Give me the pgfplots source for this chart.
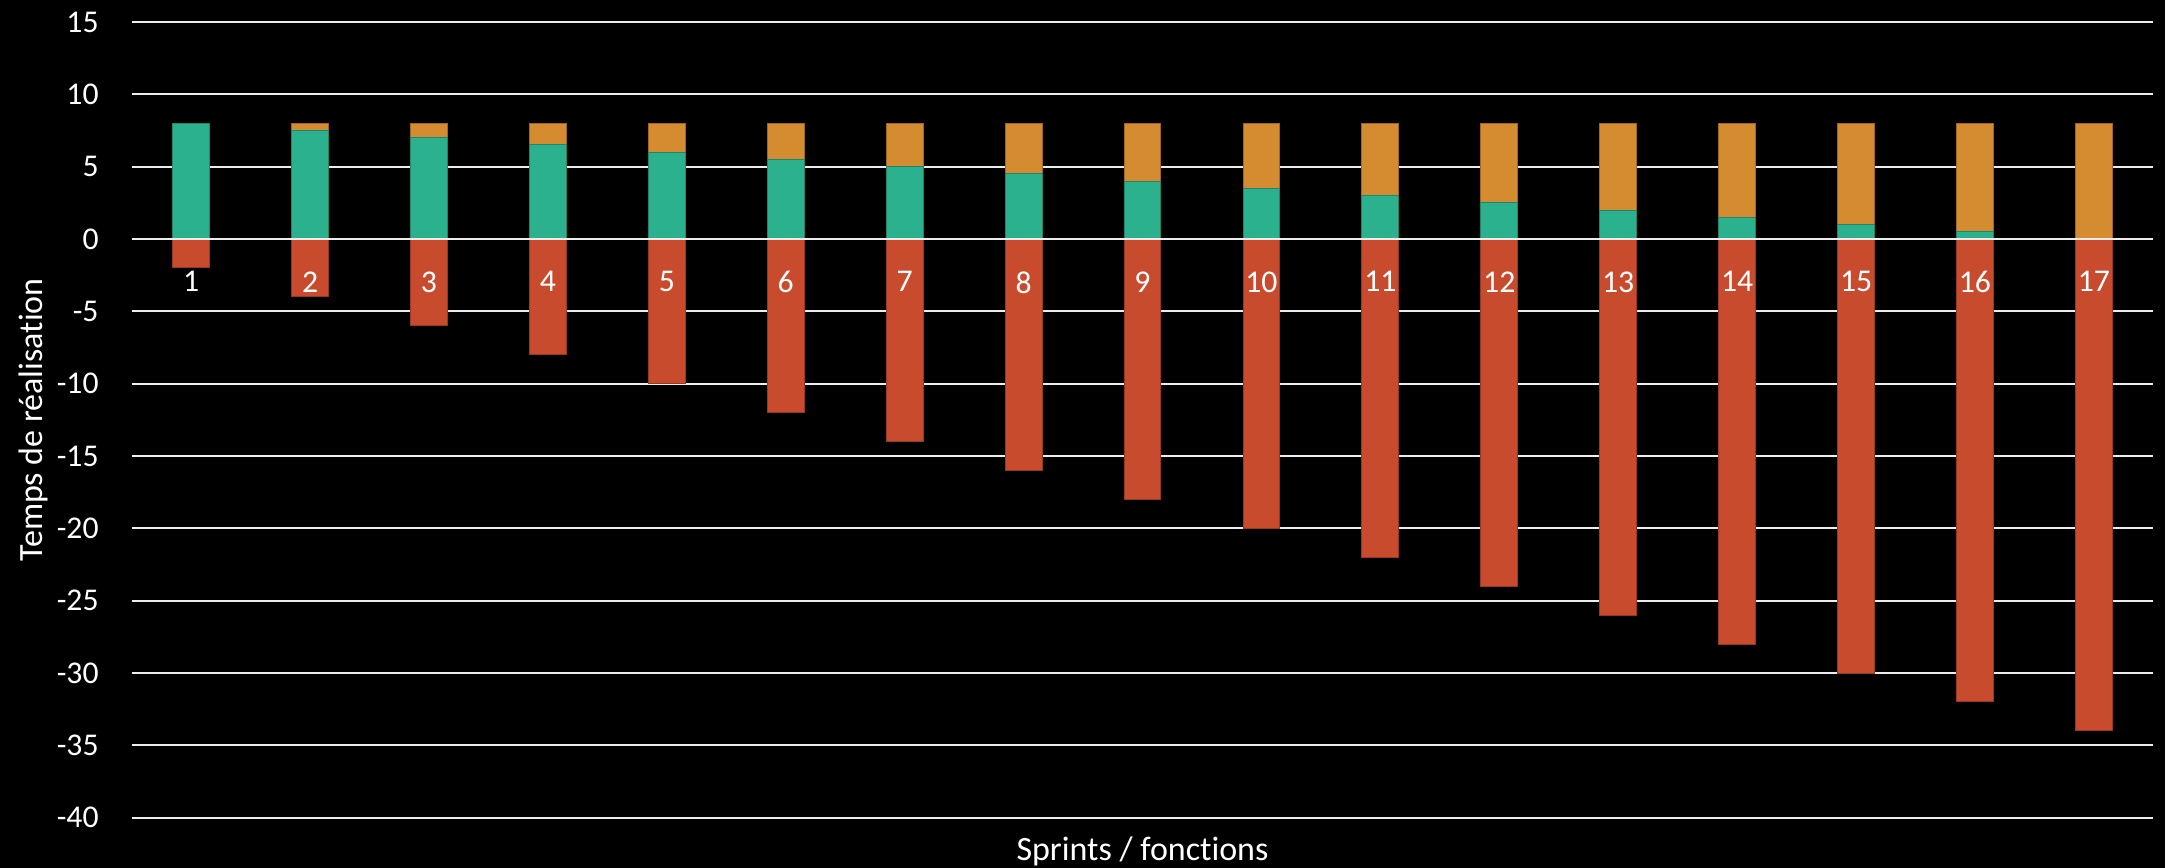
\documentclass[border=0pt]{standalone}
\usepackage{pgfplots}
\pgfplotsset{compat=1.18}
\usepackage{fontspec}
\setmainfont{Carlito}[Ligatures=NoCommon]
\definecolor{cgreen}{HTML}{2BB18E}
\definecolor{corange}{HTML}{D58B30}
\definecolor{cred}{HTML}{C94B2E}
\definecolor{cgrid}{HTML}{EDEDED}
\pgfplotsset{base/.style={
  scale only axis, width=606.5pt, height=238.7pt,
  xmin=0.5, xmax=17.5, ymin=-40, ymax=15,
  enlargelimits=false,
  at={(0,0)}, anchor=south west,
  /pgf/number format/assume math mode=true,
}}
\begin{document}
\begin{tikzpicture}
\fill[black, use as bounding box] (-39.5pt,-15.06pt) rectangle (610pt,245.3pt);
\begin{axis}[base, ybar stacked, bar width=0.31,
  axis line style={draw=none}, tick style={draw=none},
  xtick=\empty, ytick={-40,-35,...,15},
  ymajorgrids, grid style={cgrid, line width=0.55pt},
  yticklabel style={font=\fontsize{9.5}{11}\selectfont, text=white, xshift=-6.4pt},
  xlabel={Sprints / fonctions}, ylabel={Temps de réalisation},
  xlabel style={font=\fontsize{10.2}{12}\selectfont, text=white, at={(axis description cs:0.5,0)}, anchor=north, yshift=-2.2pt},
  ylabel style={font=\fontsize{10.2}{12}\selectfont, text=white, at={(axis description cs:-0.0442,0.5)}, anchor=base},
]
\addplot[fill=cgreen, draw=cgreen!75!black, line width=0.3pt] coordinates {
 (1,8) (2,7.5) (3,7) (4,6.5) (5,6) (6,5.5) (7,5) (8,4.5) (9,4)
 (10,3.5) (11,3) (12,2.5) (13,2) (14,1.5) (15,1) (16,0.5) (17,0)};
\addplot[fill=corange, draw=corange!75!black, line width=0.3pt] coordinates {
 (1,0) (2,0.5) (3,1) (4,1.5) (5,2) (6,2.5) (7,3) (8,3.5) (9,4)
 (10,4.5) (11,5) (12,5.5) (13,6) (14,6.5) (15,7) (16,7.5) (17,8)};
\end{axis}
\begin{axis}[base, hide axis]
\addplot[ybar, bar width=0.31, bar shift=0pt, fill=cred, draw=cred!75!black, line width=0.3pt] coordinates {
 (1,-2) (2,-4) (3,-6) (4,-8) (5,-10) (6,-12) (7,-14) (8,-16) (9,-18)
 (10,-20) (11,-22) (12,-24) (13,-26) (14,-28) (15,-30) (16,-32) (17,-34)};
\draw[cgrid, line width=0.55pt] (axis cs:0.5,0) -- (axis cs:17.5,0);
\addplot[draw=none, mark=none, point meta=x,
  nodes near coords={\pgfmathprintnumber{\pgfplotspointmeta}},
  nodes near coords style={anchor=north, text=white, font=\fontsize{9.5}{11}\selectfont, yshift=-6.2pt}]
 coordinates {(1,0) (2,0) (3,0) (4,0) (5,0) (6,0) (7,0) (8,0) (9,0)
 (10,0) (11,0) (12,0) (13,0) (14,0) (15,0) (16,0) (17,0)};
\end{axis}
\end{tikzpicture}
\end{document}
